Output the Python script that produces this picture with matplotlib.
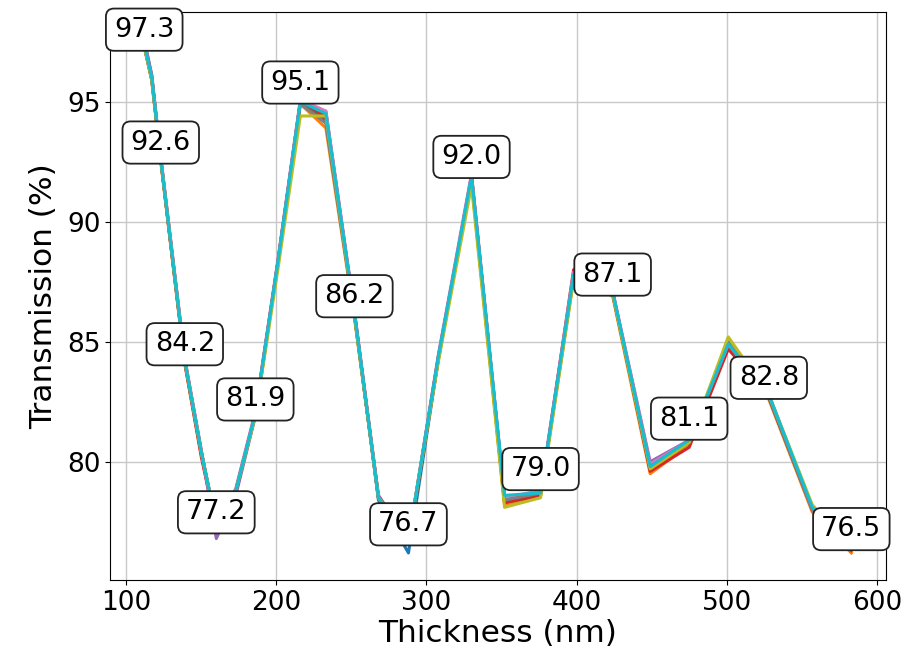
import matplotlib
matplotlib.use("Agg")
import matplotlib.pyplot as plt

thickness = [112, 117, 123, 131, 139, 150, 160, 173, 186, 201, 216, 233, 252, 268,
             288, 308, 330, 352, 376, 398, 424, 449, 475, 501, 528, 557, 583]

series_1 = [97.4, 96.0, 92.6, 88.4, 84.2, 80.4, 77.3, 78.8, 82.0, 88.3, 95.0, 94.5, 86.2, 78.4,
            76.2, 84.3, 91.9, 78.5, 78.7, 87.8, 87.0, 79.8, 80.8, 84.9, 82.7, 78.0, 76.4]
series_2 = [97.3, 95.9, 92.5, 88.3, 84.1, 80.3, 77.3, 78.7, 81.9, 88.2, 94.9, 93.9, 86.0, 78.6,
            76.7, 84.3, 91.7, 78.2, 78.6, 87.6, 86.9, 79.5, 80.7, 84.8, 82.6, 77.9, 76.2]
series_3 = [97.5, 96.1, 92.6, 88.4, 84.2, 80.4, 77.4, 78.8, 82.0, 88.3, 95.0, 94.3, 86.1, 78.5,
            76.6, 84.4, 91.8, 78.3, 78.6, 87.8, 87.0, 79.7, 80.8, 84.9, 82.7, 78.0, 76.4]
series_4 = [97.3, 95.9, 92.6, 88.3, 84.1, 80.2, 77.3, 78.8, 82.0, 88.3, 95.0, 94.4, 86.2, 78.5,
            76.6, 84.3, 91.9, 78.3, 78.6, 88.0, 87.1, 79.6, 80.6, 84.7, 82.7, 78.0, 76.3]
series_5 = [97.6, 96.1, 92.7, 88.5, 84.3, 80.5, 76.8, 78.6, 81.9, 88.3, 95.0, 94.6, 86.3, 78.6,
            76.7, 84.4, 91.9, 78.5, 78.7, 87.8, 87.1, 80.0, 80.9, 84.9, 82.8, 78.1, 76.4]
series_6 = [97.3, 96.0, 92.6, 88.4, 84.2, 80.4, 77.4, 78.8, 82.0, 88.3, 95.0, 94.2, 86.2, 78.5,
            76.6, 84.4, 91.8, 78.4, 78.7, 87.8, 87.0, 79.8, 80.8, 84.9, 82.7, 78.0, 76.4]
series_7 = [97.4, 96.0, 92.7, 88.5, 84.3, 80.4, 77.3, 78.9, 82.1, 88.4, 95.1, 94.6, 86.2, 78.5,
            76.7, 84.5, 92.0, 78.5, 78.8, 87.9, 87.1, 79.9, 80.9, 84.9, 82.8, 78.0, 76.4]
series_8 = [97.3, 95.9, 92.6, 88.4, 84.2, 80.4, 77.4, 78.8, 82.0, 88.3, 94.9, 94.1, 86.1, 78.5,
            76.7, 84.4, 91.8, 78.4, 78.7, 87.7, 87.0, 79.8, 80.9, 85.0, 82.7, 78.0, 76.4]
series_9 = [97.3, 95.9, 92.6, 88.4, 84.2, 80.4, 77.4, 78.8, 81.9, 88.0, 94.4, 94.4, 86.1, 78.5,
            76.8, 84.2, 91.5, 78.1, 78.5, 87.6, 87.0, 79.7, 80.8, 85.2, 82.8, 78.2, 76.5]
series_10 = [97.4, 96.0, 92.6, 88.4, 84.2, 80.4, 77.4, 78.8, 82.0, 88.3, 95.0, 94.5, 86.2, 78.5,
             76.7, 84.4, 91.9, 78.6, 78.7, 87.8, 87.1, 79.8, 80.9, 84.9, 82.8, 78.1, 76.5]

all_series = [series_1, series_2, series_3, series_4, series_5,
              series_6, series_7, series_8, series_9, series_10]

label_x = [112, 123, 139, 160, 186, 216, 252, 288, 330, 376, 424, 475, 528, 583]
label_vals = [97.3, 92.6, 84.2, 77.2, 81.9, 95.1, 86.2, 76.7, 92.0, 79.0, 87.1, 81.1, 82.8, 76.5]

fig = plt.figure(figsize=(9.18, 6.54), dpi=100)
ax = fig.add_axes([0.120, 0.113, 0.845, 0.869])

for s in all_series:
    ax.plot(thickness, s, lw=2.2)

for x, v in zip(label_x, label_vals):
    ax.annotate(f"{v:.1f}", xy=(x, v), xytext=(0, 12), textcoords="offset points",
                ha="center", va="center", fontsize=19.5,
                bbox=dict(boxstyle="round,pad=0.3", fc="white", ec="#222222", lw=1.3))

ax.set_xlim(89.3, 606)
ax.set_ylim(75.07, 98.74)
ax.set_xticks([100, 200, 300, 400, 500, 600])
ax.set_yticks([80, 85, 90, 95])
ax.tick_params(labelsize=19)
ax.set_xlabel("Thickness (nm)", fontsize=22.5, labelpad=2)
ax.set_ylabel("Transmission (%)", fontsize=22.5, labelpad=6)
ax.grid(True, color="#c8c8c8", lw=1.0)

fig.savefig("out.png", dpi=100)
